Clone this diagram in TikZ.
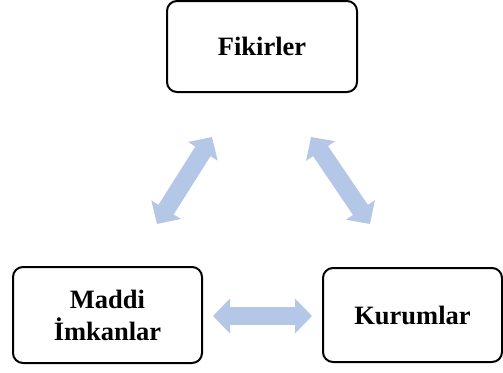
\documentclass[tikz,border=0pt]{standalone}
\usepackage{fontspec}
\setmainfont{Liberation Serif}
\usetikzlibrary{arrows.meta}
\definecolor{arrowblue}{RGB}{180,199,231}
\tikzset{
  box/.style={draw=black, line width=2pt, rounded corners=10pt, align=center,
    font=\fontsize{26.5}{32}\selectfont\bfseries, inner sep=0pt},
  blockarrow/.style={draw=arrowblue, line width=18pt,
    {Triangle[width=34pt,length=17pt]}-{Triangle[width=34pt,length=17pt]}}
}
\begin{document}
\begin{tikzpicture}[x=1pt,y=-1pt]
\useasboundingbox (0,0) rectangle (503,372);
\node[box, minimum width=190pt, minimum height=91pt] (fik) at (262,46.5) {Fikirler};
\node[box, minimum width=189pt, minimum height=96pt] (mad) at (107.5,315) {Maddi\\İmkanlar};
\node[box, minimum width=179pt, minimum height=94pt] (kur) at (412.5,315) {Kurumlar};
\coordinate (l1) at (157,224);
\coordinate (l2) at (212,137);
\coordinate (r1) at (311,137);
\coordinate (r2) at (370,224);
\coordinate (h1) at (213,316);
\coordinate (h2) at (312,316);
\draw[blockarrow] (l1) -- (l2);
\draw[blockarrow] (r1) -- (r2);
\draw[blockarrow] (h1) -- (h2);
\end{tikzpicture}
\end{document}
